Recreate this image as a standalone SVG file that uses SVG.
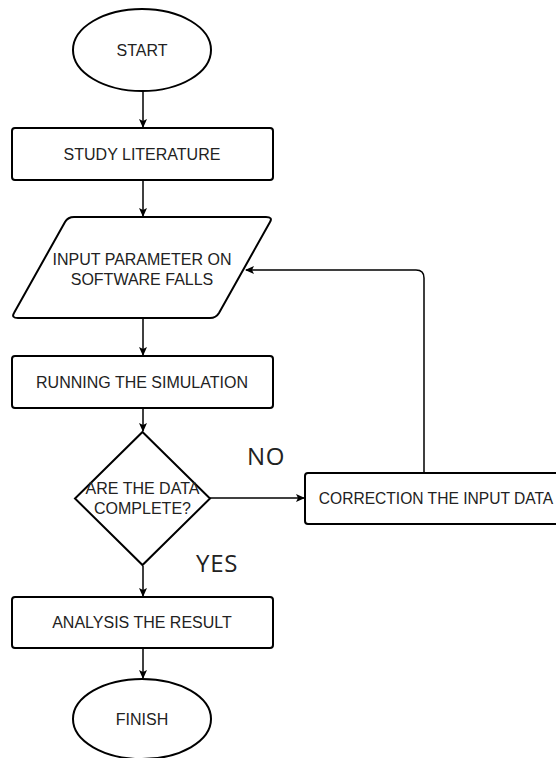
<svg xmlns="http://www.w3.org/2000/svg" width="556" height="758" viewBox="0 0 556 758">
<style>
.shape{fill:#fff;stroke:#000;stroke-width:2}
.t{font-family:"Liberation Sans",Arial,sans-serif;font-size:16px;fill:#222;text-anchor:middle}
.lbl{font-family:"Open Sans","DejaVu Sans",sans-serif;font-size:24px;fill:#222;letter-spacing:0.8px}
.c{fill:none;stroke:#000;stroke-width:1.5}
</style>
<defs>
<marker id="ah" markerWidth="10" markerHeight="10" refX="8" refY="5" orient="auto" markerUnits="userSpaceOnUse">
<path d="M0,1 L9,5 L0,9 L2,5 Z" fill="#000"/>
</marker>
</defs>
<rect width="556" height="758" fill="#fff"/>
<g id="connectors">
<line class="c" x1="143" y1="91" x2="143" y2="127" marker-end="url(#ah)"/>
<line class="c" x1="143" y1="181" x2="143" y2="216" marker-end="url(#ah)"/>
<line class="c" x1="143" y1="319" x2="143" y2="355" marker-end="url(#ah)"/>
<line class="c" x1="143" y1="409" x2="143" y2="431" marker-end="url(#ah)"/>
<line class="c" x1="143" y1="566" x2="143" y2="596" marker-end="url(#ah)"/>
<line class="c" x1="143" y1="649" x2="143" y2="678" marker-end="url(#ah)"/>
<line class="c" x1="210" y1="498" x2="304" y2="498" marker-end="url(#ah)"/>
<path class="c" d="M424,473 V278 Q424,270 416,270 H246" stroke-width="1.3" marker-end="url(#ah)"/>
</g>
<g id="start">
<ellipse class="shape" cx="142" cy="50" rx="69" ry="41"/>
<text class="t" x="142" y="56">START</text>
</g>
<g id="study">
<rect class="shape" x="12" y="128" width="261" height="52" rx="3"/>
<text class="t" x="142" y="160">STUDY LITERATURE</text>
</g>
<g id="input">
<path class="shape" d="M74,217 H266 Q273,217 270,222 L219,313 Q216,318 210,318 H18 Q11,318 14,313 L65,222 Q68,217 74,217 Z"/>
<text class="t" x="142" y="265">INPUT PARAMETER ON</text>
<text class="t" x="142" y="285">SOFTWARE FALLS</text>
</g>
<g id="running">
<rect class="shape" x="12" y="356" width="261" height="52" rx="3"/>
<text class="t" x="142" y="388">RUNNING THE SIMULATION</text>
</g>
<g id="decision">
<path class="shape" d="M142.5,432 L210,498.5 L142.5,565 L75,498.5 Z"/>
<text class="t" x="142.5" y="494">ARE THE DATA</text>
<text class="t" x="142.5" y="514">COMPLETE?</text>
</g>
<g id="correction">
<rect class="shape" x="305" y="473" width="266" height="51" rx="3"/>
<text class="t" x="436" y="504" style="font-size:15.6px">CORRECTION THE INPUT DATA</text>
</g>
<g id="analysis">
<rect class="shape" x="12" y="597" width="261" height="51" rx="3"/>
<text class="t" x="142" y="628">ANALYSIS THE RESULT</text>
</g>
<g id="finish">
<ellipse class="shape" cx="142" cy="719" rx="69" ry="40"/>
<text class="t" x="142" y="725">FINISH</text>
</g>
<g id="labels">
<text class="lbl" x="247" y="465">NO</text>
<text class="lbl" x="196" y="572">YES</text>
</g>
</svg>
